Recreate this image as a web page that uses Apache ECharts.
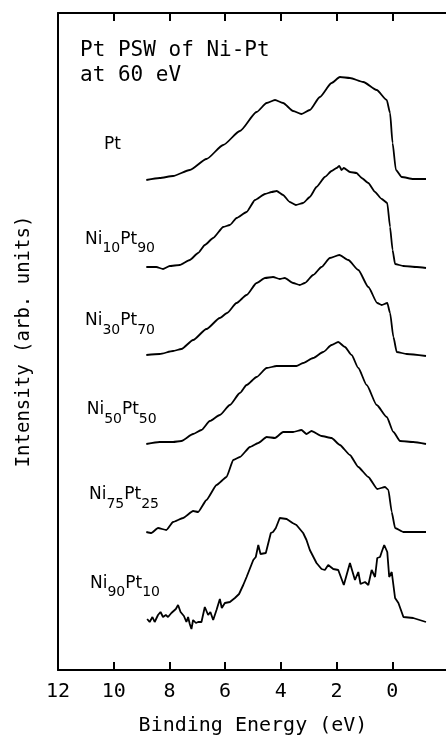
<!DOCTYPE html>
<html><head><meta charset="utf-8">
<script src="https://cdn.jsdelivr.net/npm/echarts@6/dist/echarts.min.js"></script>
<style>html,body{margin:0;padding:0;background:#fff}#c{width:446px;height:737px}</style>
</head><body><div id="c"></div>
<script>
// Binding energy tick labels (eV)
const xTicks = [12, 10, 8, 6, 4, 2, 0];

// Curves: [binding energy (eV), intensity (arb. units, offset stacked)]
const ptCurve = [[8.83,490],[8.35,492],[7.87,494],[7.27,500],[6.67,511],[6.07,525],[5.47,539],[4.87,558],[4.51,567],[4.21,570],[3.92,567],[3.56,559],[3.26,556],[2.96,560],[2.60,573],[2.18,587],[1.88,593],[1.52,592],[1.04,588],[0.56,580],[0.20,570],[0.08,557],[-0.01,527],[-0.13,500],[-0.34,493],[-0.75,491],[-1.21,491]];
const ni10Curve = [[8.83,403],[8.47,403],[8.23,401],[7.99,404],[7.63,405],[7.27,410],[6.97,417],[6.73,425],[6.43,432],[6.07,443],[5.83,445],[5.59,452],[5.23,458],[4.93,470],[4.57,476],[4.33,478],[4.15,479],[3.92,475],[3.68,468],[3.46,465],[3.20,467],[2.96,473],[2.72,483],[2.42,493],[2.18,499],[2.00,502],[1.90,504],[1.82,500],[1.74,502],[1.52,498],[1.28,497],[1.10,492],[0.86,487],[0.62,478],[0.38,471],[0.18,467],[0.08,443],[-0.01,420],[-0.10,406],[-0.40,404],[-0.88,403],[-1.21,402]];
const ni30Curve = [[8.83,315],[8.35,316],[7.87,319],[7.57,321],[7.15,330],[6.67,341],[6.19,352],[5.93,357],[5.59,367],[5.23,375],[4.87,387],[4.57,392],[4.28,393],[4.04,391],[3.86,392],[3.56,387],[3.32,385],[3.14,387],[2.84,395],[2.54,403],[2.24,412],[1.90,415],[1.58,410],[1.22,400],[0.86,383],[0.54,367],[0.38,365],[0.18,367],[0.08,357],[-0.04,333],[-0.16,318],[-0.52,316],[-1.21,314]];
const ni50Curve = [[8.83,226],[8.35,228],[7.87,228],[7.57,229],[7.15,236],[6.85,240],[6.55,249],[6.19,255],[5.83,265],[5.47,277],[5.23,285],[4.87,293],[4.51,302],[4.15,304],[3.79,304],[3.44,304],[3.20,307],[2.84,312],[2.48,318],[2.18,325],[1.94,328],[1.70,323],[1.46,315],[1.22,302],[0.92,285],[0.56,265],[0.20,253],[-0.04,238],[-0.28,229],[-0.75,228],[-1.21,226]];
const ni75Curve = [[8.83,138],[8.65,137],[8.41,142],[8.11,140],[7.87,148],[7.51,152],[7.15,159],[6.97,158],[6.67,170],[6.31,185],[5.95,193],[5.71,210],[5.47,213],[5.11,223],[4.81,227],[4.51,233],[4.21,232],[3.92,238],[3.56,238],[3.26,240],[3.08,236],[2.90,239],[2.54,234],[2.18,232],[1.88,225],[1.52,215],[1.22,203],[0.86,193],[0.54,181],[0.26,183],[0.14,180],[0.02,158],[-0.10,142],[-0.40,138],[-1.21,138]];
const ni90Curve = [[8.80,51],[8.71,48],[8.61,53],[8.53,48],[8.41,55],[8.32,58],[8.23,53],[8.13,55],[8.05,53],[7.93,57],[7.77,61],[7.69,65],[7.60,58],[7.48,54],[7.39,48],[7.33,53],[7.27,46],[7.21,41],[7.15,50],[7.05,47],[6.97,48],[6.85,48],[6.73,63],[6.61,55],[6.53,58],[6.43,50],[6.31,60],[6.19,71],[6.12,62],[6.01,67],[5.83,68],[5.65,72],[5.50,76],[5.35,85],[5.23,93],[4.99,110],[4.90,113],[4.81,125],[4.73,116],[4.54,117],[4.36,137],[4.28,138],[4.18,142],[4.04,152],[3.79,151],[3.58,147],[3.44,145],[3.20,137],[3.08,130],[2.96,120],[2.72,107],[2.54,101],[2.42,100],[2.30,105],[2.12,101],[1.94,100],[1.74,85],[1.52,107],[1.34,90],[1.22,98],[1.14,86],[0.98,88],[0.86,85],[0.74,100],[0.62,93],[0.54,112],[0.44,113],[0.38,118],[0.29,125],[0.18,118],[0.11,93],[0.02,98],[-0.10,72],[-0.22,67],[-0.40,53],[-0.75,52],[-1.21,48]];

// Series names and label parts [main, sub, main, sub]
const seriesNames = ['Pt', 'Ni10Pt90', 'Ni30Pt70', 'Ni50Pt50', 'Ni75Pt25', 'Ni90Pt10'];
const labelParts = [['Pt'], ['Ni','10','Pt','90'], ['Ni','30','Pt','70'], ['Ni','50','Pt','50'], ['Ni','75','Pt','25'], ['Ni','90','Pt','10']];
const curves = [ptCurve, ni10Curve, ni30Curve, ni50Curve, ni75Curve, ni90Curve];
const curveSmooth = [0.2, 0.15, 0.2, 0.2, 0.15, 0];

const titleLines = ['Pt PSW of Ni-Pt', 'at 60 eV'];
const xName = 'Binding Energy (eV)';
const yName = 'Intensity (arb. units)';

// label placement (style/layout)
const labelPos = [[104,145],[85,239.5],[85,321],[86.7,410],[89,495],[90,583.5]];

const MONO = '"DejaVu Sans Mono", monospace';
const SANS = '"DejaVu Sans", sans-serif';

const chart = echarts.init(document.getElementById('c'), null, {renderer: 'canvas'});

const graphics = [];
graphics.push({
  type: 'text', left: 80, top: 38,
  style: { text: titleLines.join('\n'), font: '21px ' + MONO, fill: '#000', lineHeight: 25 }
});
labelParts.forEach((parts, i) => {
  const txt = parts.map((p, k) => (k % 2 === 0 ? '{m|' : '{s|') + p + '}').join('');
  graphics.push({
    type: 'text', x: labelPos[i][0], y: labelPos[i][1],
    style: {
      text: txt, fill: '#000', verticalAlign: 'middle', align: 'left',
      rich: {
        m: { fontSize: 17, fontFamily: SANS, lineHeight: 20, fill: '#000' },
        s: { fontSize: 14, fontFamily: SANS, lineHeight: 20, padding: [18, 0, 0, 0], fill: '#000' }
      }
    }
  });
});

const axisCommon = {
  type: 'value', min: -2, max: 12, interval: 2, inverse: true,
  splitLine: { show: false },
  axisLine: { show: true, onZero: false, lineStyle: { color: '#000', width: 2 } },
  axisTick: { show: true, inside: true, length: 8, lineStyle: { color: '#000', width: 2 } }
};

chart.setOption({
  animation: false,
  backgroundColor: '#fff',
  grid: { left: 58, top: 13, width: 390, height: 657, containLabel: false, outerBoundsMode: 'none' },
  xAxis: [
    Object.assign({}, axisCommon, {
      position: 'bottom',
      name: xName, nameLocation: 'middle', nameGap: 46,
      nameTextStyle: { fontSize: 20, fontFamily: MONO, color: '#000' },
      axisLabel: {
        show: true, margin: 12, fontSize: 20, fontFamily: MONO, color: '#000',
        formatter: v => xTicks.indexOf(v) >= 0 ? String(v) : ''
      }
    }),
    Object.assign({}, axisCommon, {
      position: 'top',
      axisLabel: { show: false }
    })
  ],
  yAxis: {
    type: 'value', min: 0, max: 657,
    name: yName, nameLocation: 'middle', nameGap: 24,
    nameTextStyle: { fontSize: 19, fontFamily: MONO, color: '#000' },
    splitLine: { show: false },
    axisTick: { show: false },
    axisLabel: { show: false },
    axisLine: { show: true, onZero: false, lineStyle: { color: '#000', width: 2 } }
  },
  series: curves.map((d, i) => ({
    name: seriesNames[i], type: 'line', data: d, xAxisIndex: 0,
    showSymbol: false, symbol: 'none',
    smooth: curveSmooth[i], smoothMonotone: 'x',
    lineStyle: { color: '#000', width: 1.8 }
  })),
  graphic: graphics
});
</script>
</body></html>
